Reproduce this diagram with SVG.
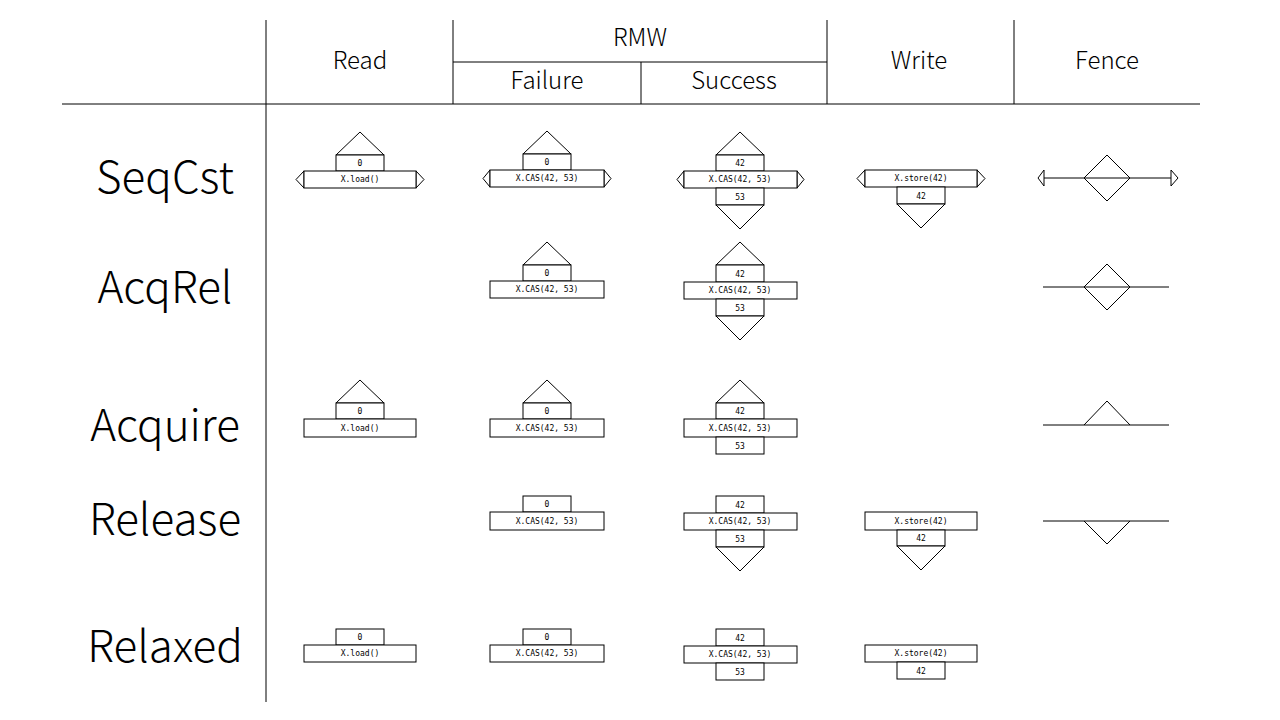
<svg xmlns="http://www.w3.org/2000/svg" width="1280" height="720" viewBox="0 0 1280 720">
<style>
.s{fill:#fff;stroke:#000;stroke-width:1}
.l{stroke:#000;stroke-width:1;fill:none}
.h{font-family:"Noto Sans CJK JP","Noto Sans",sans-serif;font-size:24px;text-anchor:middle;font-weight:300}
.r{font-family:"Noto Sans CJK JP","Noto Sans",sans-serif;font-size:44px;text-anchor:middle;font-weight:300}
.t{font-family:"DejaVu Sans Mono","Liberation Mono",monospace;font-size:8px;text-anchor:middle}
</style>
<rect width="1280" height="720" fill="#fff"/>
<g id="grid" class="l">
<path d="M266 20V702M62 104H1200M453 20V104M827 20V104M1014 20V104M453 62H827M641 62V104"/>
</g>
<g id="headers">
<text class="h" x="360" y="69">Read</text>
<text class="h" x="640" y="46">RMW</text>
<text class="h" x="547" y="89">Failure</text>
<text class="h" x="734" y="89">Success</text>
<text class="h" x="919" y="69">Write</text>
<text class="h" x="1107" y="69">Fence</text>
<text class="r" x="165" y="193">SeqCst</text>
<text class="r" x="165" y="303">AcqRel</text>
<text class="r" x="165" y="441">Acquire</text>
<text class="r" x="165" y="535">Release</text>
<text class="r" x="165" y="662">Relaxed</text>
</g>
<!-- SeqCst -->
<g id="seq-read">
<path class="s" d="M336 155L360 132L384 155Z"/><rect class="s" x="336" y="155" width="48" height="16"/><text class="t" x="360" y="166">0</text>
<path class="s" d="M304 171L296 179.5L304 188ZM416 171L424 179.5L416 188Z"/>
<rect class="s" x="304" y="171" width="112" height="17"/><text class="t" x="360" y="182">X.load()</text>
</g>
<g id="seq-fail">
<path class="s" d="M523 154L547 131L571 154Z"/><rect class="s" x="523" y="154" width="48" height="16"/><text class="t" x="547" y="165">0</text>
<path class="s" d="M490 170L483 178.5L490 187ZM604 170L611 178.5L604 187Z"/>
<rect class="s" x="490" y="170" width="114" height="17"/><text class="t" x="547" y="181">X.CAS(42, 53)</text>
</g>
<g id="seq-succ">
<path class="s" d="M716 155L740 132L764 155Z"/><rect class="s" x="716" y="155" width="48" height="16"/><text class="t" x="740" y="166">42</text>
<path class="s" d="M684 171L677 179.5L684 188ZM797 171L804 179.5L797 188Z"/>
<rect class="s" x="684" y="171" width="113" height="17"/><text class="t" x="740" y="182">X.CAS(42, 53)</text>
<rect class="s" x="716" y="188" width="48" height="17"/><text class="t" x="740" y="200">53</text>
<path class="s" d="M716 205L740 229L764 205Z"/>
</g>
<g id="seq-write">
<path class="s" d="M865 170L857 178.5L865 187ZM977 170L985 178.5L977 187Z"/>
<rect class="s" x="865" y="170" width="112" height="17"/><text class="t" x="921" y="181">X.store(42)</text>
<rect class="s" x="897" y="187" width="48" height="17"/><text class="t" x="921" y="199">42</text>
<path class="s" d="M897 204L921 228L945 204Z"/>
</g>
<g id="seq-fence">
<path class="l" d="M1044 178H1171"/>
<path class="s" d="M1044 170L1038 178L1044 186ZM1171 170L1178 178L1171 186Z"/>
<path class="s" d="M1084 178L1107 155L1130 178L1107 201Z"/><path class="l" d="M1084 178H1130"/>
</g>
<!-- AcqRel -->
<g id="ar-fail">
<path class="s" d="M523 265L547 242L571 265Z"/><rect class="s" x="523" y="265" width="48" height="16"/><text class="t" x="547" y="276">0</text>
<rect class="s" x="490" y="281" width="114" height="17"/><text class="t" x="547" y="292">X.CAS(42, 53)</text>
</g>
<g id="ar-succ">
<path class="s" d="M716 265L740 242L764 265Z"/><rect class="s" x="716" y="265" width="48" height="17"/><text class="t" x="740" y="277">42</text>
<rect class="s" x="684" y="282" width="113" height="17"/><text class="t" x="740" y="293">X.CAS(42, 53)</text>
<rect class="s" x="716" y="299" width="48" height="17"/><text class="t" x="740" y="311">53</text>
<path class="s" d="M716 316L740 340L764 316Z"/>
</g>
<g id="ar-fence">
<path class="l" d="M1043 287H1169"/>
<path class="s" d="M1084 287L1107 264L1130 287L1107 310Z"/><path class="l" d="M1084 287H1130"/>
</g>
<!-- Acquire -->
<g id="acq-read">
<path class="s" d="M336 403L360 380L384 403Z"/><rect class="s" x="336" y="403" width="48" height="16"/><text class="t" x="360" y="414">0</text>
<rect class="s" x="304" y="419" width="112" height="18"/><text class="t" x="360" y="431">X.load()</text>
</g>
<g id="acq-fail">
<path class="s" d="M523 403L547 380L571 403Z"/><rect class="s" x="523" y="403" width="48" height="16"/><text class="t" x="547" y="414">0</text>
<rect class="s" x="490" y="419" width="114" height="18"/><text class="t" x="547" y="431">X.CAS(42, 53)</text>
</g>
<g id="acq-succ">
<path class="s" d="M716 403L740 380L764 403Z"/><rect class="s" x="716" y="403" width="48" height="16"/><text class="t" x="740" y="414">42</text>
<rect class="s" x="684" y="419" width="113" height="18"/><text class="t" x="740" y="431">X.CAS(42, 53)</text>
<rect class="s" x="716" y="437" width="48" height="17"/><text class="t" x="740" y="449">53</text>
</g>
<g id="acq-fence">
<path class="l" d="M1043 425H1169"/>
<path class="l" d="M1084 425L1107 401L1130 425"/>
</g>
<!-- Release -->
<g id="rel-fail">
<rect class="s" x="523" y="496" width="48" height="16"/><text class="t" x="547" y="507">0</text>
<rect class="s" x="490" y="512" width="114" height="18"/><text class="t" x="547" y="524">X.CAS(42, 53)</text>
</g>
<g id="rel-succ">
<rect class="s" x="716" y="496" width="48" height="17"/><text class="t" x="740" y="508">42</text>
<rect class="s" x="684" y="513" width="113" height="17"/><text class="t" x="740" y="524">X.CAS(42, 53)</text>
<rect class="s" x="716" y="530" width="48" height="17"/><text class="t" x="740" y="542">53</text>
<path class="s" d="M716 547L740 571L764 547Z"/>
</g>
<g id="rel-write">
<rect class="s" x="865" y="512" width="112" height="18"/><text class="t" x="921" y="524">X.store(42)</text>
<rect class="s" x="897" y="530" width="48" height="16"/><text class="t" x="921" y="541">42</text>
<path class="s" d="M897 546L921 570L945 546Z"/>
</g>
<g id="rel-fence">
<path class="l" d="M1043 521H1169"/>
<path class="l" d="M1084 521L1107 544L1130 521"/>
</g>
<!-- Relaxed -->
<g id="rlx-read">
<rect class="s" x="336" y="629" width="48" height="16"/><text class="t" x="360" y="640">0</text>
<rect class="s" x="304" y="645" width="112" height="17"/><text class="t" x="360" y="656">X.load()</text>
</g>
<g id="rlx-fail">
<rect class="s" x="523" y="629" width="48" height="16"/><text class="t" x="547" y="640">0</text>
<rect class="s" x="490" y="645" width="114" height="17"/><text class="t" x="547" y="656">X.CAS(42, 53)</text>
</g>
<g id="rlx-succ">
<rect class="s" x="716" y="629" width="48" height="17"/><text class="t" x="740" y="641">42</text>
<rect class="s" x="684" y="646" width="113" height="17"/><text class="t" x="740" y="657">X.CAS(42, 53)</text>
<rect class="s" x="716" y="663" width="48" height="17"/><text class="t" x="740" y="675">53</text>
</g>
<g id="rlx-write">
<rect class="s" x="865" y="645" width="112" height="17"/><text class="t" x="921" y="656">X.store(42)</text>
<rect class="s" x="897" y="662" width="48" height="17"/><text class="t" x="921" y="674">42</text>
</g>
<g id="connectors"></g>
</svg>
